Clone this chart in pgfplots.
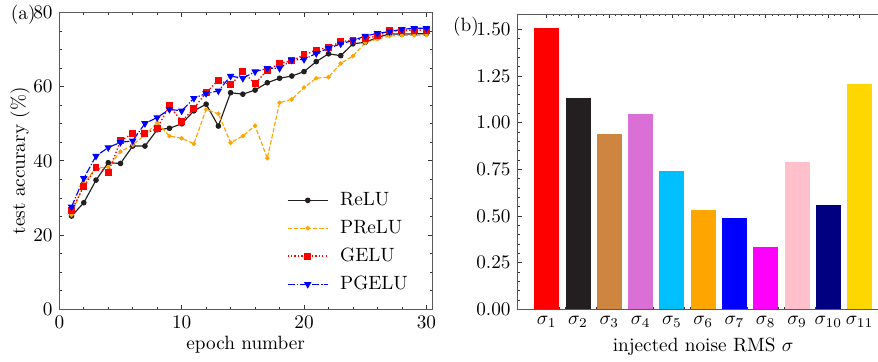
\documentclass[border=0pt]{standalone}
\usepackage{pgfplots}
\pgfplotsset{compat=1.18}
\definecolor{cRelu}{RGB}{35,31,32}
\definecolor{cPrelu}{RGB}{255,165,0}
\definecolor{cGelu}{RGB}{255,0,0}
\definecolor{cPgelu}{RGB}{0,0,255}
\definecolor{b1}{RGB}{255,0,0}
\definecolor{b2}{RGB}{35,31,32}
\definecolor{b3}{RGB}{205,133,63}
\definecolor{b4}{RGB}{218,112,214}
\definecolor{b5}{RGB}{0,191,255}
\definecolor{b6}{RGB}{255,165,0}
\definecolor{b7}{RGB}{0,0,255}
\definecolor{b8}{RGB}{255,0,255}
\definecolor{b9}{RGB}{255,192,203}
\definecolor{b10}{RGB}{0,0,128}
\definecolor{b11}{RGB}{255,215,0}
\pgfplotsset{
  mystyle/.style={
    scale only axis,
    tick align=inside,
    major tick length=2.2pt, minor tick length=1.2pt,
    axis line style={black!65, line width=0.5pt},
    every tick/.style={black!80, line width=0.4pt},
  }
}
\begin{document}
\begin{tikzpicture}
\begin{axis}[
  mystyle,
  name=left, at={(30.84pt,-6.60pt)}, anchor=north west,
  width=193.8pt, height=154.1pt,
  xmin=0, xmax=30.46, ymin=0, ymax=80,
  xtick={0,10,20,30}, ytick={0,20,40,60,80},
  minor x tick num=4, minor y tick num=3,
  xlabel={epoch number}, ylabel={test accurary (\%)},
  xlabel style={at={(axis description cs:0.5,-0.122)}, anchor=center},
  ylabel style={at={(axis description cs:-0.105,0.5)}, anchor=center},
  legend style={draw=none, fill=none, at={(axis description cs:0.594,0.421)}, anchor=north west, row sep=2.1pt},
  legend cell align=left,
  legend image code/.code={\draw[mark repeat=2,mark phase=2,#1] plot coordinates {(0cm,0cm) (0.37cm,0cm) (0.74cm,0cm)}; \path (0.88cm,0cm);},
]
\addplot[color=cRelu, line width=0.6pt, mark=*, mark size=1.15pt, mark options={solid}] coordinates {
(1,25.1)(2,28.7)(3,34.8)(4,39.5)(5,39.3)(6,44.0)(7,44.0)(8,48.4)(9,48.8)(10,50.0)
(11,53.5)(12,55.3)(13,49.4)(14,58.4)(15,58.0)(16,59.1)(17,61.1)(18,62.3)(19,62.9)(20,64.1)
(21,66.8)(22,68.9)(23,68.4)(24,71.6)(25,72.0)(26,73.3)(27,74.3)(28,74.2)(29,74.3)(30,74.3)};
\addlegendentry{ReLU}
\addplot[color=cPrelu, line width=0.6pt, dash pattern=on 2.3pt off 1pt, mark=*, mark size=0.85pt, mark options={solid}] coordinates {
(1,25.4)(2,33.9)(3,38.1)(4,38.3)(5,42.5)(6,44.3)(7,47.0)(8,50.3)(9,46.7)(10,46.1)
(11,44.6)(12,53.9)(13,52.7)(14,44.9)(15,46.7)(16,49.5)(17,40.7)(18,55.7)(19,56.6)(20,59.8)
(21,62.3)(22,62.6)(23,66.3)(24,68.3)(25,71.9)(26,72.9)(27,73.7)(28,73.9)(29,73.9)(30,74.0)};
\addlegendentry{PReLU}
\addplot[color=cGelu, line width=0.7pt, dash pattern=on 0.7pt off 1.1pt, mark=square*, mark size=1.45pt, mark options={solid}] coordinates {
(1,26.7)(2,33.0)(3,38.2)(4,36.9)(5,45.4)(6,47.4)(7,47.3)(8,48.8)(9,54.9)(10,50.6)
(11,54.2)(12,58.4)(13,61.8)(14,60.5)(15,64.1)(16,60.8)(17,64.5)(18,66.3)(19,67.0)(20,68.6)
(21,69.9)(22,70.6)(23,72.2)(24,72.6)(25,73.1)(26,73.7)(27,75.1)(28,75.1)(29,75.3)(30,75.3)};
\addlegendentry{GELU}
\addplot[color=cPgelu, line width=0.6pt, dash pattern=on 3.8pt off 1pt on 0.6pt off 1pt, mark=triangle*, mark size=1.7pt, mark options={solid, rotate=180}] coordinates {
(1,27.6)(2,35.3)(3,41.3)(4,43.6)(5,45.0)(6,45.4)(7,50.1)(8,51.7)(9,53.9)(10,53.5)
(11,56.9)(12,58.2)(13,58.9)(14,62.9)(15,62.3)(16,64.1)(17,65.0)(18,65.0)(19,67.2)(20,67.4)
(21,69.0)(22,70.4)(23,71.6)(24,72.5)(25,73.7)(26,74.4)(27,74.9)(28,75.5)(29,75.8)(30,75.8)};
\addlegendentry{PGELU}
\end{axis}
\begin{axis}[
  mystyle,
  name=right, at={(269.0pt,-7.28pt)}, anchor=north west,
  width=193.3pt, height=153.6pt,
  xmin=-0.94, xmax=10.94, ymin=0, ymax=1.582,
  xtick={0,1,2,3,4,5,6,7,8,9,10},
  xticklabels={$\sigma_1$,$\sigma_2$,$\sigma_3$,$\sigma_4$,$\sigma_5$,$\sigma_6$,$\sigma_7$,$\sigma_8$,$\sigma_9$,$\sigma_{10}$,$\sigma_{11}$},
  ytick={0,0.25,0.5,0.75,1,1.25,1.5},
  yticklabel style={/pgf/number format/.cd, fixed, fixed zerofill, precision=2},
  minor x tick num=4, minor y tick num=4,
  xlabel={injected noise RMS $\sigma$},
  xlabel style={at={(axis description cs:0.5,-0.126)}, anchor=center},
]
\addplot[ybar, bar width=0.8, bar shift=0pt, fill=b1, draw=none] coordinates {(0,1.507)};
\addplot[ybar, bar width=0.8, bar shift=0pt, fill=b2, draw=none] coordinates {(1,1.132)};
\addplot[ybar, bar width=0.8, bar shift=0pt, fill=b3, draw=none] coordinates {(2,0.939)};
\addplot[ybar, bar width=0.8, bar shift=0pt, fill=b4, draw=none] coordinates {(3,1.046)};
\addplot[ybar, bar width=0.8, bar shift=0pt, fill=b5, draw=none] coordinates {(4,0.741)};
\addplot[ybar, bar width=0.8, bar shift=0pt, fill=b6, draw=none] coordinates {(5,0.532)};
\addplot[ybar, bar width=0.8, bar shift=0pt, fill=b7, draw=none] coordinates {(6,0.489)};
\addplot[ybar, bar width=0.8, bar shift=0pt, fill=b8, draw=none] coordinates {(7,0.334)};
\addplot[ybar, bar width=0.8, bar shift=0pt, fill=b9, draw=none] coordinates {(8,0.789)};
\addplot[ybar, bar width=0.8, bar shift=0pt, fill=b10, draw=none] coordinates {(9,0.559)};
\addplot[ybar, bar width=0.8, bar shift=0pt, fill=b11, draw=none] coordinates {(10,1.207)};
\end{axis}
\node[anchor=west, inner sep=0pt] at (5.5pt,-7.5pt) {(a)};
\node[anchor=west, inner sep=0pt] at (235.4pt,-14.0pt) {(b)};
\pgfresetboundingbox
\path[use as bounding box] (0,0) rectangle (456.56pt,-187.72pt);
\end{tikzpicture}
\end{document}
